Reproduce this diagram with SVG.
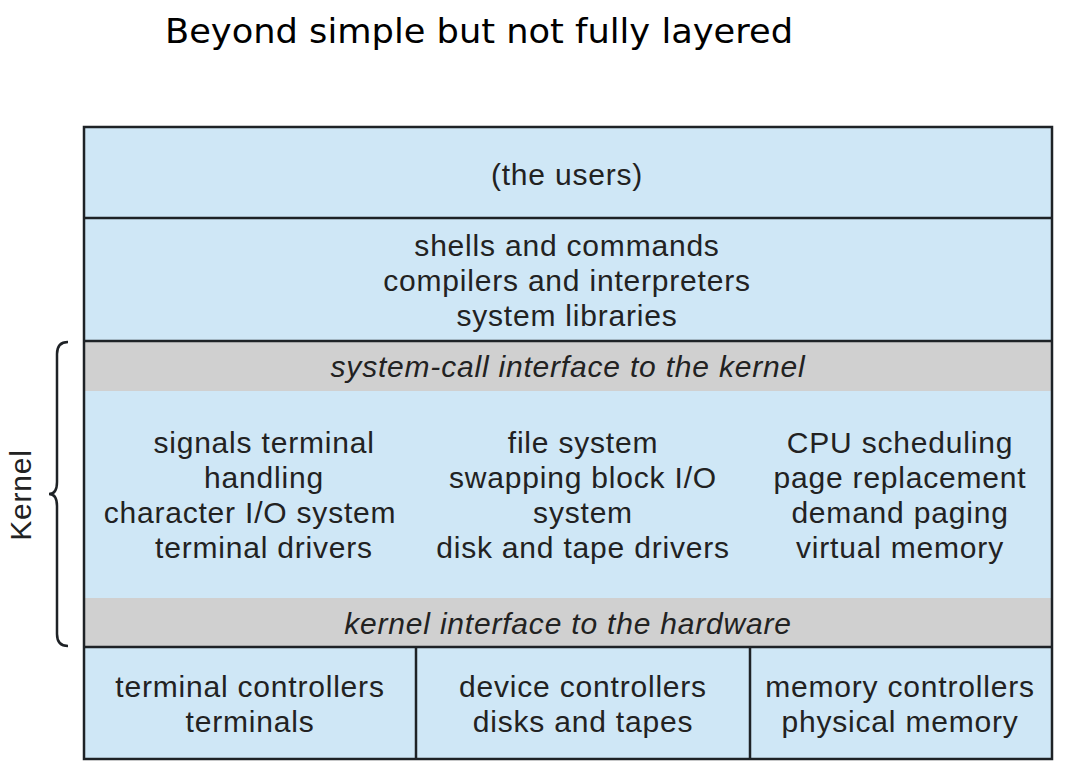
<svg xmlns="http://www.w3.org/2000/svg" width="1070" height="776" viewBox="0 0 1070 776">
<style>
.t{font-family:"Liberation Sans",Arial,sans-serif;font-size:30px;letter-spacing:0.8px;fill:#222;text-anchor:middle}
.i{font-style:italic}
.blue{fill:#cfe7f6}
.gray{fill:#d0d0d0}
.ln{stroke:#1e2226;stroke-width:2.5;fill:none}
</style>
<rect width="1070" height="776" fill="#fff"/>
<text x="165" y="43" textLength="628" lengthAdjust="spacingAndGlyphs" style="font-family:'DejaVu Sans',Verdana,sans-serif;font-size:34px;fill:#000">Beyond simple but not fully layered</text>
<g id="users"><rect class="blue" x="84" y="127" width="968" height="91"/><text class="t" x="567" y="185">(the users)</text></g>
<g id="shells"><rect class="blue" x="84" y="218" width="968" height="123"/>
<text class="t" x="567" y="256">shells and commands</text>
<text class="t" x="567" y="291">compilers and interpreters</text>
<text class="t" x="567" y="326">system libraries</text></g>
<g id="syscall"><rect class="gray" x="84" y="341" width="968" height="50"/><text class="t i" x="568" y="377">system-call interface to the kernel</text></g>
<g id="kernel"><rect class="blue" x="84" y="391" width="968" height="207"/>
<text class="t" x="264" y="453">signals terminal</text>
<text class="t" x="264" y="488">handling</text>
<text class="t" x="250" y="523">character I/O system</text>
<text class="t" x="264" y="558">terminal drivers</text>
<text class="t" x="583" y="453">file system</text>
<text class="t" x="583" y="488">swapping block I/O</text>
<text class="t" x="583" y="523">system</text>
<text class="t" x="583" y="558">disk and tape drivers</text>
<text class="t" x="900" y="453">CPU scheduling</text>
<text class="t" x="900" y="488">page replacement</text>
<text class="t" x="900" y="523">demand paging</text>
<text class="t" x="900" y="558">virtual memory</text></g>
<g id="kif"><rect class="gray" x="84" y="598" width="968" height="49"/><text class="t i" x="568" y="634">kernel interface to the hardware</text></g>
<g id="terminal"><rect class="blue" x="84" y="647" width="332" height="112"/>
<text class="t" x="250" y="697">terminal controllers</text><text class="t" x="250" y="732">terminals</text></g>
<g id="device"><rect class="blue" x="416" y="647" width="334" height="112"/>
<text class="t" x="583" y="697">device controllers</text><text class="t" x="583" y="732">disks and tapes</text></g>
<g id="memory"><rect class="blue" x="750" y="647" width="302" height="112"/>
<text class="t" x="900" y="697">memory controllers</text><text class="t" x="900" y="732">physical memory</text></g>
<g id="lines">
<rect class="ln" x="84" y="127" width="968" height="632"/>
<line class="ln" x1="84" y1="218" x2="1052" y2="218"/>
<line class="ln" x1="84" y1="341" x2="1052" y2="341"/>
<line class="ln" x1="84" y1="647" x2="1052" y2="647"/>
<line class="ln" x1="416" y1="647" x2="416" y2="759"/>
<line class="ln" x1="750" y1="647" x2="750" y2="759"/>
</g>
<g id="brace">
<path class="ln" d="M68,342 Q57,342 57,354 L57,482 Q57,494 49,494 Q57,494 57,506 L57,634 Q57,646 68,646"/>
<text class="t" transform="translate(31,495) rotate(-90)">Kernel</text>
</g>
</svg>
